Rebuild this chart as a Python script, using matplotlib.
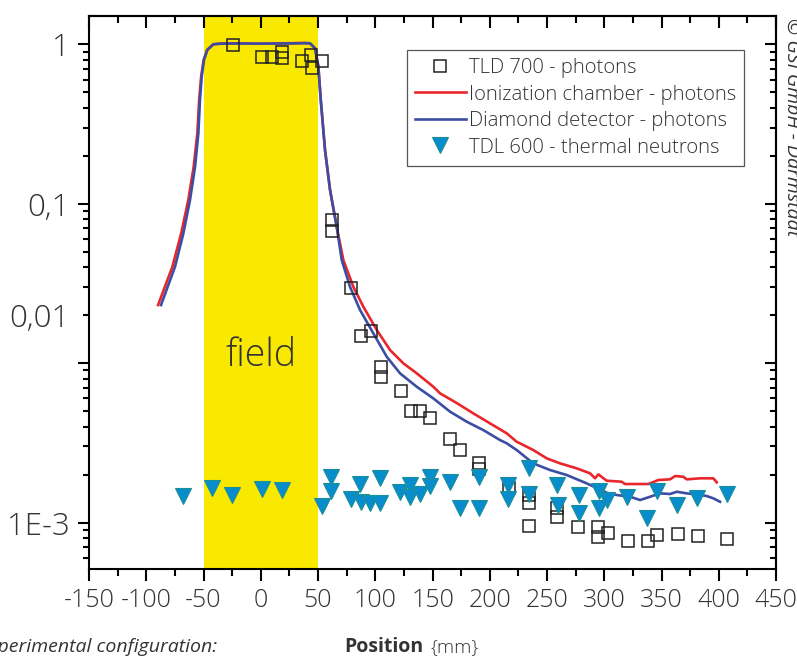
import matplotlib
matplotlib.use('Agg')
from matplotlib import pyplot as plt
from matplotlib.ticker import FixedLocator, NullFormatter, FuncFormatter

plt.rcParams['font.family'] = ['Open Sans', 'DejaVu Sans']
plt.rcParams['axes.unicode_minus'] = False

TEXT = '#333333'
RED = '#e8262b'
BLUE = '#3b4ea3'
CYAN = '#0a90cf'

# TLD 700 - photons
tld700_x = [-24.5, 0.8, 9.6, 18.3, 18.3, 35.8, 43.6, 44.5, 53.2, 62.0, 62.0, 78.8,
            87.6, 96.0, 105.0, 105.0, 122.2, 131.0, 139.0, 147.8, 165.3, 174.0,
            190.9, 190.9, 217.0, 234.3, 234.3, 234.3, 258.5, 258.5, 277.3, 294.8,
            294.8, 303.0, 320.3, 338.2, 346.3, 364.2, 381.9, 407.5]
tld700_y = [0.99, 0.836, 0.836, 0.899, 0.817, 0.786, 0.857, 0.707, 0.786, 0.079,
            0.0677, 0.0297, 0.01485, 0.0159, 0.0095, 0.0082, 0.00668, 0.00503,
            0.00503, 0.00451, 0.00335, 0.00285, 0.00237, 0.00216, 0.00164, 0.00149,
            0.00133, 0.00095, 0.00123, 0.00109, 0.00094, 0.00094, 0.00081, 0.00086,
            0.000766, 0.000766, 0.00084, 0.000847, 0.000823, 0.000785]

# Ionization chamber - photons
ion_x = [-89.7, -77.2, -69.5, -63.3, -58.6, -55.4, -53.8, -52.1, -49.9, -46.9, -41.5,
         -35, -20, -5, 10, 25, 38, 43.0, 47.4, 50.3, 52.4, 56.1, 60.5, 66.3, 72.1,
         80.8, 89.6, 101.3, 112.9, 124.5, 136.2, 150.7, 156.6, 171.1, 185.6, 200.2,
         214.8, 223.5, 238.0, 249.7, 261.4, 275.9, 287.6, 291.9, 294.8, 302.1, 315.2,
         318.1, 338.5, 347.2, 357.4, 361.8, 369.0, 372.0, 383.6, 395.2, 398.2]
ion_y = [0.02314, 0.04025, 0.0652, 0.1055, 0.1706, 0.2764, 0.4478, 0.626, 0.797,
         0.921, 1.0, 1.01, 1.015, 1.01, 1.012, 1.015, 1.02, 1.014, 0.944, 0.7235,
         0.447, 0.2172, 0.1219, 0.0717, 0.04433, 0.03015, 0.02258, 0.01613, 0.01208,
         0.00997, 0.00863, 0.00711, 0.00646, 0.00562, 0.00484, 0.00419, 0.003627,
         0.003212, 0.00285, 0.002528, 0.00235, 0.002188, 0.002035, 0.001894,
         0.002006, 0.00183, 0.001803, 0.001744, 0.001744, 0.001848, 0.001866,
         0.001957, 0.001938, 0.001866, 0.001894, 0.001894, 0.001788]

# Diamond detector - photons
dia_x = [-87.1, -74.9, -67.6, -61.8, -57.4, -54.5, -53.1, -51.6, -49.6, -46.7, -41.4,
         -35, -20, -5, 10, 25, 38, 43.0, 47.4, 50.3, 52.4, 56.1, 60.5, 66.3, 70.7,
         77.9, 86.7, 98.3, 110.0, 121.6, 136.2, 150.7, 165.3, 179.9, 194.4, 209.0,
         214.8, 223.5, 238.0, 252.6, 267.2, 284.7, 296.3, 302.1, 310.9, 322.5, 331.3,
         340.0, 348.8, 357.4, 363.3, 372.0, 380.7, 389.5, 395.2, 401.1]
dia_y = [0.02314, 0.04025, 0.0652, 0.1055, 0.1706, 0.2764, 0.4478, 0.626, 0.797,
         0.921, 1.0, 1.008, 1.012, 1.008, 1.01, 1.012, 1.015, 1.014, 0.944, 0.7235,
         0.447, 0.2172, 0.1219, 0.0717, 0.04433, 0.03015, 0.02153, 0.01538, 0.01097,
         0.00863, 0.00711, 0.00601, 0.00496, 0.00429, 0.0038, 0.00329, 0.00314,
         0.00285, 0.00235, 0.002135, 0.001986, 0.00176, 0.00161, 0.001538, 0.001488,
         0.001452, 0.001384, 0.001452, 0.001524, 0.00151, 0.00156, 0.001524,
         0.001503, 0.001466, 0.001419, 0.00135]

# TDL 600 - thermal neutrons
tdl600_x = [-68.2, -42.3, -25.4, 0.8, 18.3, 53.2, 61.4, 61.4, 78.8, 86.7, 87.6, 95.4,
            104.1, 104.1, 121.6, 130.3, 130.3, 139.0, 147.8, 147.8, 165.3, 174.0,
            190.9, 190.9, 216.2, 216.2, 234.0, 234.0, 258.3, 259.9, 277.7, 277.7,
            295.2, 295.2, 302.7, 319.9, 337.5, 346.1, 363.7, 381.2, 407.0]
tdl600_y = [0.001466, 0.00164, 0.00149, 0.001615, 0.0016, 0.00127, 0.00194, 0.00158,
            0.0014, 0.00174, 0.00135, 0.00133, 0.00189, 0.00133, 0.00156, 0.00172,
            0.00144, 0.00151, 0.00194, 0.0017, 0.0018, 0.00123, 0.00192, 0.00123,
            0.00172, 0.0014, 0.00219, 0.00152, 0.00172, 0.00129, 0.00148, 0.00114,
            0.00158, 0.00123, 0.00138, 0.00145, 0.00107, 0.00157, 0.00128, 0.00143,
            0.00151]

fig = plt.figure(figsize=(7.97, 6.57), dpi=100)
ax = fig.add_axes([0.1117, 0.1339, 0.8620, 0.8418])

ax.axvspan(-50, 50, color='#f9e900', lw=0, zorder=0)
ax.text(0, 0.0112, 'field', fontsize=27, color=TEXT, ha='center', va='center',
        fontweight='light')

ax.plot(ion_x, ion_y, color=RED, lw=1.9, label='Ionization chamber - photons', zorder=2)
ax.plot(dia_x, dia_y, color=BLUE, lw=1.9, label='Diamond detector - photons', zorder=3)
ax.plot(tld700_x, tld700_y, ls='none', marker='s', ms=8, mfc='none', mec='#222222',
        mew=1.1, label='TLD 700 - photons', zorder=4)
ax.plot(tdl600_x, tdl600_y, ls='none', marker='v', ms=11, mfc='#078dcd', mec='#1c8f96',
        mew=0.8, label='TDL 600 - thermal neutrons', zorder=5)

ax.set_yscale('log')
ax.set_xlim(-150, 450)
ax.set_ylim(5.11e-4, 1.505)

major_y = [1e-3, 1e-2, 1e-1, 1]
minor_y = [m * 10.0 ** e for e in range(-4, 1) for m in range(2, 10)]
ax.yaxis.set_major_locator(FixedLocator(major_y))
ax.yaxis.set_minor_locator(FixedLocator(minor_y))
ax.set_yticklabels(['1E-3', '', '0,1', '1'])
ax.yaxis.set_minor_formatter(FuncFormatter(lambda v, p: '0,01' if abs(v - 0.02) < 1e-9 else ''))
ax.set_xticks(range(-150, 451, 50))
ax.set_xticks(range(-125, 451, 50), minor=True)

for s in ax.spines.values():
    s.set_linewidth(1.5)
ax.tick_params(axis='y', which='major', direction='out', length=8, width=1.5,
               labelsize=22.5, labelcolor=TEXT, pad=6)
ax.tick_params(axis='y', which='minor', direction='out', length=4.5, width=1.5,
               labelsize=22.5, labelcolor=TEXT, pad=9.5)
ax.tick_params(axis='x', which='major', direction='out', length=8.5, width=1.5,
               labelsize=18, labelcolor=TEXT, pad=5)
ax.tick_params(axis='x', which='minor', direction='out', length=5, width=1.5)
for lab in ax.get_xticklabels() + ax.get_yticklabels() + ax.get_yticklabels(minor=True):
    lab.set_fontweight('light')

top = ax.secondary_xaxis('top')
top.set_xticks(range(-150, 451, 50))
top.set_xticks(range(-125, 451, 50), minor=True)
top.tick_params(which='major', direction='in', length=8.5, width=1.5, labeltop=False)
top.tick_params(which='minor', direction='in', length=5, width=1.5)
top.spines['top'].set_linewidth(1.5)

right = ax.secondary_yaxis('right')
right.yaxis.set_major_locator(FixedLocator(major_y))
right.yaxis.set_minor_locator(FixedLocator(minor_y))
right.yaxis.set_major_formatter(NullFormatter())
right.yaxis.set_minor_formatter(NullFormatter())
right.tick_params(which='major', direction='in', length=8, width=1.5)
right.tick_params(which='minor', direction='in', length=4.5, width=1.5)
right.spines['right'].set_linewidth(1.5)

h, l = ax.get_legend_handles_labels()
order = [2, 0, 1, 3]
leg = ax.legend([h[i] for i in order], [l[i] for i in order], loc='upper left',
                bbox_to_anchor=(0.4624, 0.9385), fontsize=14.6, frameon=True,
                fancybox=False, edgecolor='#555555', framealpha=1,
                handlelength=2.5, handletextpad=0.15, labelspacing=0.32,
                borderpad=0.4, borderaxespad=0)
leg.get_frame().set_linewidth(0.9)
for t in leg.get_texts():
    t.set_color(TEXT)
    t.set_fontweight('light')

fig.text(423 / 797, 0.0076, 'Position', fontsize=14, fontweight='bold', color=TEXT,
         ha='right', va='baseline')
fig.text(430 / 797, 0.0076, '{mm}', fontsize=14, fontweight='light', color=TEXT,
         ha='left', va='baseline')
fig.text(217 / 797, 0.0076, 'Experimental configuration:', fontsize=14, style='italic',
         color=TEXT, ha='right', va='baseline')
fig.text(783 / 797, 1 - 18 / 657, '\u00a9 GSI GmbH - Darmstadt', fontsize=14,
         style='italic', color=TEXT, rotation=-90, ha='left', va='top')

fig.savefig('out.png', dpi=100)
